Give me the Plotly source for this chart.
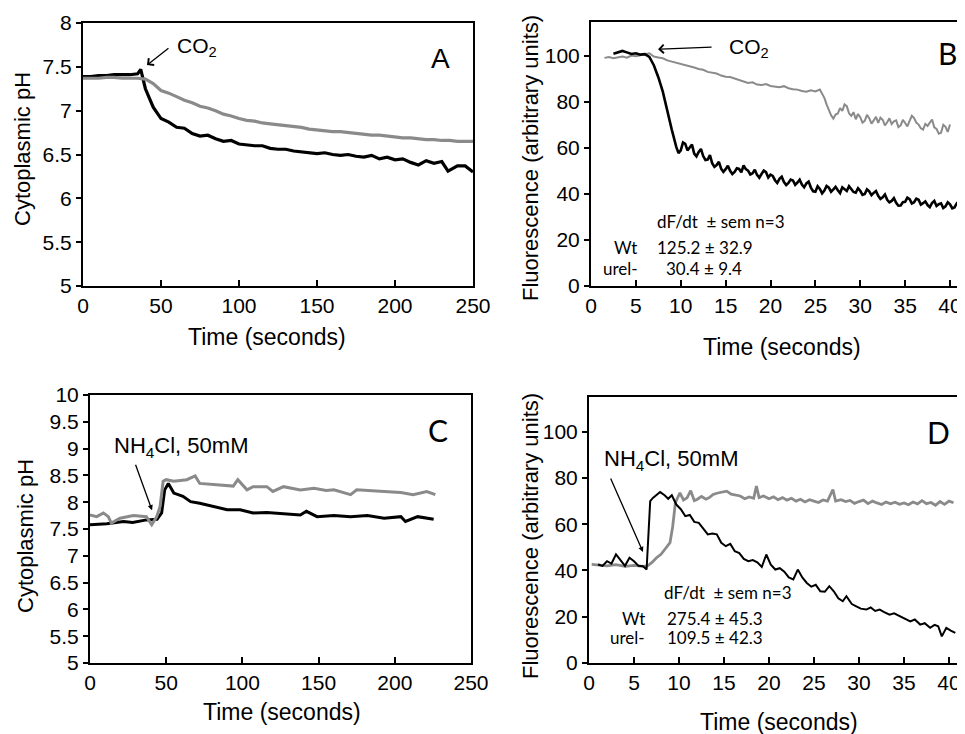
import plotly.graph_objects as go

W, H = 965, 734
OFF = 8  # page body margin in the browser

# ---------------- Panel A: cytoplasmic pH, CO2 ----------------
a_wt_t = [0, 5, 10, 15, 20, 25, 30, 35, 37, 40, 45, 50, 55, 60, 65, 70, 75, 80, 85, 90, 95,
          100, 105, 110, 115, 120, 125, 130, 135, 140, 145, 150, 155, 160, 165, 170, 175,
          180, 185, 190, 195, 200, 205, 210, 215, 220, 225, 230, 234, 240, 245, 250]
a_wt_ph = [7.39, 7.39, 7.40, 7.40, 7.41, 7.41, 7.41, 7.42, 7.47, 7.25, 7.04, 6.91, 6.87, 6.81,
           6.80, 6.74, 6.71, 6.72, 6.68, 6.65, 6.66, 6.62, 6.61, 6.60, 6.60, 6.57, 6.56, 6.56,
           6.54, 6.53, 6.52, 6.51, 6.52, 6.50, 6.49, 6.50, 6.48, 6.47, 6.49, 6.45, 6.47, 6.44,
           6.45, 6.41, 6.38, 6.43, 6.40, 6.42, 6.31, 6.37, 6.37, 6.30]
a_ure_t = [0, 5, 10, 15, 20, 25, 30, 35, 40, 45, 50, 55, 60, 65, 70, 75, 80, 85, 90, 95, 100,
           105, 110, 115, 120, 125, 130, 135, 140, 145, 150, 155, 160, 165, 170, 175, 180,
           185, 190, 195, 200, 205, 210, 215, 220, 225, 230, 235, 240, 245, 250]
a_ure_ph = [7.37, 7.37, 7.37, 7.38, 7.38, 7.37, 7.37, 7.37, 7.36, 7.31, 7.23, 7.20, 7.16, 7.12,
            7.09, 7.05, 7.03, 7.00, 6.96, 6.94, 6.91, 6.89, 6.88, 6.86, 6.85, 6.84, 6.83, 6.82,
            6.81, 6.79, 6.78, 6.77, 6.76, 6.76, 6.75, 6.74, 6.73, 6.72, 6.72, 6.71, 6.70, 6.69,
            6.69, 6.68, 6.67, 6.67, 6.66, 6.66, 6.65, 6.65, 6.65]

# ---------------- Panel B: fluorescence, CO2 ----------------
b_wt_t = [2.5, 3, 3.5, 4, 4.5, 5, 5.5, 6, 6.5, 7, 7.5, 8, 8.5, 9, 9.5,
          9.75, 10, 10.25, 10.5, 10.75, 11, 11.25, 11.5, 11.75, 12, 12.25, 12.5, 12.75, 13,
          13.25, 13.5, 13.75, 14, 14.25, 14.5, 14.75, 15, 15.25, 15.5, 15.75, 16, 16.25, 16.5,
          16.75, 17, 17.25, 17.5, 17.75, 18, 18.25, 18.5, 18.75, 19, 19.25, 19.5, 19.75, 20,
          20.25, 20.5, 20.75, 21, 21.25, 21.5, 21.75, 22, 22.25, 22.5, 22.75, 23, 23.25, 23.5,
          23.75, 24, 24.25, 24.5, 24.75, 25, 25.25, 25.5, 25.75, 26, 26.25, 26.5, 26.75, 27,
          27.25, 27.5, 27.75, 28, 28.25, 28.5, 28.75, 29, 29.25, 29.5, 29.75, 30, 30.25, 30.5,
          30.75, 31, 31.25, 31.5, 31.75, 32, 32.25, 32.5, 32.75, 33, 33.25, 33.5, 33.75, 34,
          34.25, 34.5, 34.75, 35, 35.25, 35.5, 35.75, 36, 36.25, 36.5, 36.75, 37, 37.25, 37.5,
          37.75, 38, 38.25, 38.5, 38.75, 39, 39.25, 39.5, 39.75, 40, 40.25, 40.5, 40.75, 41,
          41.25, 41.5]
b_wt_f = [101.0, 101.5, 102.2, 101.6, 100.9, 101.2, 100.6, 100.8, 99.6, 96.0, 90.8, 84.5, 76.0,
          68.0, 60.5,
          57.8, 59.0, 62.4, 61.8, 59.0, 60.2, 61.5, 57.6, 56.4, 58.3, 59.6, 56.5, 54.8, 55.0,
          56.9, 53.4, 51.8, 52.6, 54.0, 51.0, 49.6, 50.8, 52.3, 50.1, 48.7, 49.6, 51.2, 50.9,
          49.4, 52.4, 50.8, 50.2, 48.5, 49.0, 50.6, 48.3, 47.1, 48.7, 50.2, 49.5, 47.2, 48.4,
          47.9, 46.0, 44.8, 46.6, 47.5, 45.2, 43.9, 44.8, 46.3, 45.9, 44.0, 45.0, 46.2, 44.1,
          42.9, 44.6, 45.4, 42.8, 41.2, 41.0, 43.4, 42.2, 40.3, 41.5, 43.5, 42.8, 41.0, 42.0,
          43.1, 41.6, 40.4, 42.9, 42.0, 41.3, 43.4, 42.2, 40.9, 40.6, 42.5, 41.4, 39.6, 40.0,
          42.0, 41.2, 39.5, 40.5, 41.3, 39.2, 37.9, 38.6, 39.8, 37.5, 36.4, 37.0, 38.2, 36.2,
          34.9, 35.0, 36.4, 36.6, 38.4, 37.8, 35.9, 36.4, 38.0, 37.5, 35.4, 36.0, 36.8, 35.2,
          34.3, 36.1, 37.0, 34.8, 35.6, 35.9, 33.9, 34.6, 36.4, 35.5, 33.8, 34.2, 35.9, 35.0,
          33.2, 33.6]
b_ure_t = [1.5, 2, 2.5, 3, 3.5, 4, 4.5, 5, 5.5, 6, 6.5, 7, 7.5, 8, 8.5, 9, 9.5, 10, 10.5, 11,
           11.5, 12, 12.5, 13, 13.5, 14, 14.5, 15, 15.5, 16, 16.5, 17, 17.5, 18, 18.5, 19, 19.5,
           20, 20.5, 21, 21.5, 22, 22.5, 23, 23.5, 24, 24.5, 25, 25.5,
           26, 26.25, 26.5, 26.75, 27, 27.25, 27.5, 27.75, 28, 28.25, 28.5, 28.75, 29, 29.25,
           29.5, 29.75, 30, 30.25, 30.5, 30.75, 31, 31.25, 31.5, 31.75, 32, 32.25, 32.5, 32.75,
           33, 33.25, 33.5, 33.75, 34, 34.25, 34.5, 34.75, 35, 35.25, 35.5, 35.75, 36, 36.25,
           36.5, 36.75, 37, 37.25, 37.5, 37.75, 38, 38.25, 38.5, 38.75, 39, 39.25, 39.5, 39.75,
           40]
b_ure_f = [99.2, 99.6, 99.0, 99.5, 99.8, 99.3, 100.2, 99.9, 100.5, 100.8, 101.2, 99.8, 99.4,
           99.0, 98.1, 97.6, 97.0, 96.8, 96.1, 95.7, 95.0, 94.4, 94.0, 93.1, 92.6, 92.4, 91.5,
           91.0, 90.9, 90.2, 89.6, 89.0, 88.3, 88.6, 87.6, 87.4, 87.8, 87.0, 86.8, 86.4, 86.9,
           86.0, 85.6, 85.4, 84.8, 84.5, 85.1, 84.6, 85.4,
           81.8, 79.0, 76.5, 74.2, 72.8, 74.6, 75.0, 77.4, 76.1, 79.0, 78.2, 75.1, 74.0, 75.6,
           72.5, 74.8, 73.4, 71.0, 71.8, 74.4, 73.0, 70.6, 72.0, 73.6, 70.9, 73.2, 72.3, 69.8,
           71.2, 72.9, 70.4, 71.6, 72.0, 69.1, 69.8, 72.2, 70.9, 69.4, 71.8, 74.0, 73.0, 71.0,
           70.2, 68.6, 68.0, 70.5, 69.6, 71.2, 72.4, 69.0, 68.3, 66.2, 66.6, 70.1, 69.2, 67.0,
           70.2]

# ---------------- Panel C: cytoplasmic pH, NH4Cl ----------------
c_wt_t = [0, 11, 22, 28, 37, 44, 47, 49, 51.4, 55, 61, 66, 72, 81, 90, 98.5, 107, 116, 127,
          138, 142, 149, 160, 171, 182, 193, 204, 207, 215, 225.5]
c_wt_ph = [7.58, 7.60, 7.64, 7.62, 7.67, 7.68, 7.80, 8.23, 8.35, 8.17, 8.11, 8.01, 7.98, 7.92,
           7.86, 7.86, 7.80, 7.81, 7.78, 7.76, 7.83, 7.73, 7.75, 7.73, 7.75, 7.70, 7.73, 7.64,
           7.73, 7.68]
c_ure_t = [0, 4.4, 8.8, 12, 14, 19.7, 28.5, 37, 40.5, 43.8, 46, 48, 50, 55, 63.5, 69, 72, 83,
           94, 97, 103, 107, 116, 120, 127, 138, 147, 155, 160, 171, 175, 193, 204, 212, 221,
           226.6]
c_ure_ph = [7.76, 7.73, 7.80, 7.73, 7.61, 7.70, 7.75, 7.73, 7.58, 7.73, 7.92, 8.39, 8.42, 8.39,
            8.42, 8.49, 8.35, 8.32, 8.30, 8.42, 8.23, 8.29, 8.29, 8.20, 8.29, 8.23, 8.26, 8.22,
            8.23, 8.14, 8.23, 8.20, 8.18, 8.14, 8.20, 8.14]

# ---------------- Panel D: fluorescence, NH4Cl ----------------
d_wt_t = [1, 1.5, 2, 2.5, 3, 3.5, 4, 4.5, 5, 5.5, 6, 6.4, 6.6, 6.8, 7.1, 7.5, 7.9, 8.4, 8.8,
          9.2, 9.7, 10.2, 10.7, 11.2, 11.7, 12.2, 12.7, 13.2, 13.7, 14.2, 14.7, 15.2, 15.7,
          16.2, 16.7, 17.2, 17.7, 18.2, 18.7, 19.2, 19.7, 20.2, 20.7, 21.2, 21.7, 22.2, 22.7,
          23.2, 23.7, 24.2, 24.7, 25.2, 25.7, 26.2, 26.7, 27.2, 27.7, 28.2, 28.6, 29.2, 29.7,
          30.2, 30.8, 31.3, 31.8, 32.3, 32.8, 33.4, 33.9, 34.6, 35.1, 35.7, 36.2, 36.8, 37.3,
          37.9, 38.4, 38.8, 39.2, 39.7, 40.2, 40.7]
d_wt_f = [42.6, 42.0, 44.0, 43.0, 47.0, 44.5, 42.0, 45.5, 44.0, 42.0, 41.8, 40.4, 58.0, 70.0,
          71.4, 72.5, 73.9, 72.5, 71.0, 72.5, 68.5, 66.5, 63.5, 64.0, 61.0, 60.6, 58.0, 55.6,
          56.0, 55.6, 52.0, 50.5, 51.5, 48.3, 47.5, 45.0, 44.0, 44.5, 43.5, 41.5, 46.9, 42.5,
          40.4, 41.0, 39.5, 37.0, 36.1, 40.4, 37.0, 34.6, 33.0, 33.8, 31.0, 30.8, 33.2, 31.0,
          28.0, 26.7, 28.9, 25.5, 24.5, 23.5, 23.1, 24.0, 22.5, 23.1, 22.0, 20.9, 21.5, 20.2,
          19.0, 18.0, 18.8, 16.6, 17.2, 15.2, 16.5, 15.9, 11.5, 15.2, 14.0, 13.0]
d_ure_t = [0.3, 1, 2, 3, 4, 5, 6, 6.5, 7, 7.5, 8, 8.5, 9, 9.3, 9.6, 10.1, 10.5, 10.9, 11.3,
           11.7, 12.0, 12.5, 13.0, 13.4, 13.8, 14.3, 14.8, 15.3, 15.8, 16.3, 16.8, 17.3, 17.8,
           18.3, 18.6, 18.9, 19.4, 20, 20.5, 21, 21.5, 22, 22.5, 23, 23.5, 24, 24.5, 25, 25.5,
           26, 26.5, 27.1, 27.4, 28, 28.5, 29, 29.5, 30, 30.5, 31, 31.5, 32, 32.5, 33, 33.5, 34,
           34.5, 35, 35.5, 36, 36.5, 37, 37.5, 38, 38.5, 39, 39.5, 40, 40.5]
d_ure_f = [42.6, 42.3, 42.0, 42.5, 41.8, 42.2, 41.8, 42.0, 43.5, 45.5, 47.0, 49.5, 52.0, 59.0,
           69.3, 73.6, 70.5, 71.4, 74.5, 70.2, 70.7, 72.0, 70.8, 71.6, 72.9, 73.5, 73.8, 74.3,
           73.0, 72.5, 72.2, 71.0, 71.8, 71.2, 76.5, 71.5, 72.2, 71.0, 71.8, 70.6, 71.5, 70.4,
           71.2, 70.0, 70.8, 69.6, 70.6, 70.0, 69.4, 70.5, 70.0, 75.0, 70.0, 70.6, 69.8, 70.3,
           69.0, 69.8, 70.4, 68.9, 70.0, 69.2, 68.5, 69.6, 68.8, 69.5, 68.6, 69.2, 68.4, 69.6,
           68.8, 70.2, 68.9, 69.4, 68.2, 69.8, 68.6, 70.0, 69.3]

BLACK = "#000000"
GREY = "#8a8a8a"
ARIAL = "Liberation Sans"
CALIBRI = "Lato"


def px(x, y):
    # screen pixel position -> paper coordinates
    return (x - OFF) / W, 1 - (y - OFF) / H


def xdom(left, right=None):
    return [px(left, 0)[0], 1 if right is None else px(right, 0)[0]]


def ydom(top, bottom):
    return [px(0, bottom)[1], px(0, top)[1]]


fig = go.Figure()

# panel A
fig.add_trace(go.Scatter(x=a_wt_t, y=a_wt_ph, mode="lines",
                         line=dict(color=BLACK, width=3.2), xaxis="x", yaxis="y"))
fig.add_trace(go.Scatter(x=a_ure_t, y=a_ure_ph, mode="lines",
                         line=dict(color=GREY, width=3.2), xaxis="x", yaxis="y"))
# panel B
fig.add_trace(go.Scatter(x=b_ure_t, y=b_ure_f, mode="lines",
                         line=dict(color=GREY, width=2), xaxis="x2", yaxis="y2"))
fig.add_trace(go.Scatter(x=b_wt_t, y=b_wt_f, mode="lines",
                         line=dict(color=BLACK, width=2.6), xaxis="x2", yaxis="y2"))
# panel C
fig.add_trace(go.Scatter(x=c_wt_t, y=c_wt_ph, mode="lines",
                         line=dict(color=BLACK, width=3), xaxis="x3", yaxis="y3"))
fig.add_trace(go.Scatter(x=c_ure_t, y=c_ure_ph, mode="lines",
                         line=dict(color=GREY, width=3), xaxis="x3", yaxis="y3"))
# panel D
fig.add_trace(go.Scatter(x=d_ure_t, y=d_ure_f, mode="lines",
                         line=dict(color=GREY, width=2.8), xaxis="x4", yaxis="y4"))
fig.add_trace(go.Scatter(x=d_wt_t, y=d_wt_f, mode="lines",
                         line=dict(color=BLACK, width=2), xaxis="x4", yaxis="y4"))


def xax(dom, rng, dtick, anchor):
    return dict(domain=dom, range=rng, dtick=dtick, tick0=0, anchor=anchor,
                automargin=False,
                ticks="inside", ticklen=6, tickwidth=1.5, tickcolor=BLACK,
                showline=True, linecolor=BLACK, linewidth=2, mirror=True,
                showgrid=False, zeroline=False,
                tickfont=dict(family=ARIAL, size=21, color=BLACK))


def yax(dom, rng, dtick, anchor, mirror=True):
    return dict(domain=dom, range=rng, dtick=dtick, tick0=0, anchor=anchor,
                automargin=False,
                ticks="outside", ticklen=5, tickwidth=1.5, tickcolor=BLACK,
                showline=True, linecolor=BLACK, linewidth=2, mirror=mirror,
                showgrid=False, zeroline=False,
                tickfont=dict(family=ARIAL, size=21, color=BLACK))


# right edge of the B/D frames falls outside the picture
b_xmax = (W + OFF - 591) / 8.975
d_xmax = (W + OFF - 589) / 9.0

fig.update_layout(
    width=W, height=H,
    margin=dict(l=0, r=0, t=0, b=0),
    paper_bgcolor="white", plot_bgcolor="white",
    showlegend=False,
    xaxis=xax(xdom(83, 473), [0, 250], 50, "y"),
    yaxis=yax(ydom(23, 286), [5, 8], 0.5, "x"),
    xaxis2=xax(xdom(591), [0, b_xmax], 5, "y2"),
    yaxis2=yax(ydom(22, 286), [0, 114.8], 20, "x2", mirror=False),
    xaxis3=xax(xdom(90, 471), [0, 250], 50, "y3"),
    yaxis3=yax(ydom(395, 663), [5, 10], 0.5, "x3"),
    xaxis4=xax(xdom(589), [0, d_xmax], 5, "y4"),
    yaxis4=yax(ydom(397, 663), [0, 115], 20, "x4", mirror=False),
)

ann = []


def text(x, y, s, size, family=ARIAL, xanchor="center", angle=0):
    X, Y = px(x, y)
    ann.append(dict(x=X, y=Y, xref="paper", yref="paper", text=s, showarrow=False,
                    xanchor=xanchor, yanchor="middle", textangle=angle,
                    font=dict(family=family, size=size, color=BLACK)))


def arrow(xref, yref, x, y, ax, ay, head, size):
    ann.append(dict(x=x, y=y, xref=xref, yref=yref, ax=ax, ay=ay, text="",
                    showarrow=True, arrowhead=head, arrowsize=size, arrowwidth=1.3,
                    arrowcolor=BLACK))


# axis titles
text(22, 149, "Cytoplasmic pH", 22, angle=-90)
text(267, 337, "Time (seconds)", 23)
text(530, 158, "Fluorescence (arbitrary units)", 22, angle=-90)
text(782, 347, "Time (seconds)", 23)
text(25, 536, "Cytoplasmic pH", 22, angle=-90)
text(282, 712, "Time (seconds)", 23)
text(530, 536, "Fluorescence (arbitrary units)", 22, angle=-90)
text(779, 722, "Time (seconds)", 23)

# panel letters
text(440, 58, "A", 28)
text(947, 53, "B", 30, family=CALIBRI)
text(438, 430, "C", 30, family=CALIBRI)
text(938, 432, "D", 30, family=CALIBRI)

# stimulus labels + arrows
text(175, 47, "CO<sub>2</sub>", 21, xanchor="left")
arrow("x", "y", 41, 7.52, 23, -18, 4, 1.3)
text(727, 48, "CO<sub>2</sub>", 21, xanchor="left")
arrow("x2", "y2", 7.47, 103, 55, -2, 4, 1.3)
text(112, 447, "NH<sub>4</sub>Cl, 50mM", 22, xanchor="left")
arrow("x3", "y3", 40.7, 7.85, -17, -47, 2, 0.8)
text(602, 460, "NH<sub>4</sub>Cl, 50mM", 22, xanchor="left")
arrow("x4", "y4", 6.0, 48.0, -33, -75, 2, 0.8)

# rate tables
text(655, 222, "dF/dt\u00a0\u00a0± sem n=3", 17, family=CALIBRI, xanchor="left")
text(639, 248, "Wt", 17, family=CALIBRI, xanchor="right")
text(655, 248, "125.2 ± 32.9", 17, family=CALIBRI, xanchor="left")
text(640, 268, "urel-", 17, family=CALIBRI, xanchor="right")
text(664, 268, "30.4 ± 9.4", 17, family=CALIBRI, xanchor="left")

text(662, 592, "dF/dt\u00a0\u00a0± sem n=3", 17, family=CALIBRI, xanchor="left")
text(647, 618, "Wt", 17, family=CALIBRI, xanchor="right")
text(665, 618, "275.4 ± 45.3", 17, family=CALIBRI, xanchor="left")
text(647, 637, "urel-", 17, family=CALIBRI, xanchor="right")
text(665, 637, "109.5 ± 42.3", 17, family=CALIBRI, xanchor="left")

fig.update_layout(annotations=ann)

fig.write_html("out.html")
